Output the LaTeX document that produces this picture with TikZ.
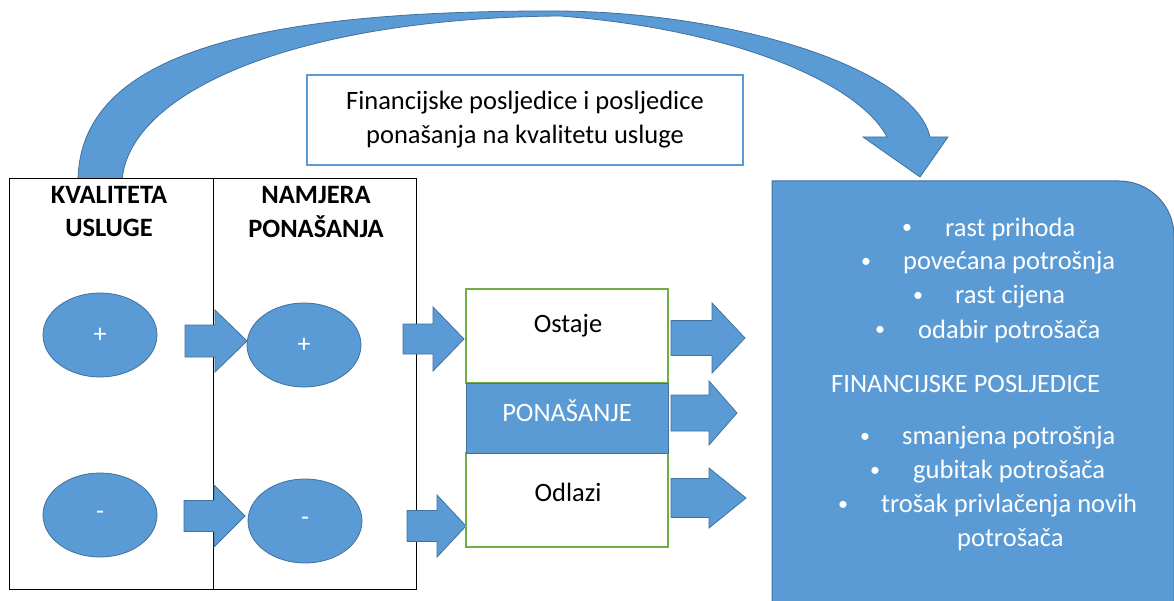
\documentclass[tikz,border=0pt]{standalone}
\usepackage{fontspec}
\setmainfont{Carlito}
\usetikzlibrary{shapes.geometric}
\definecolor{bfill}{HTML}{5B9BD5}
\definecolor{bdraw}{HTML}{41719C}
\definecolor{gdraw}{HTML}{70AD47}
\newcommand{\blkarrow}[6]{\filldraw[blockarrow] (#1,#4-#5) -- (#2,#4-#5) -- (#2,#4-#6) -- (#3,#4) -- (#2,#4+#6) -- (#2,#4+#5) -- (#1,#4+#5) -- cycle;}
\begin{document}
\begin{tikzpicture}[x=1pt,y=-1pt,
  blockarrow/.style={fill=bfill,draw=bdraw,line width=0.8pt},
  oval/.style={ellipse,fill=bfill,draw=bdraw,line width=0.8pt,minimum width=114pt,minimum height=84pt,inner sep=0pt,text=white,font=\fontsize{26}{28}\selectfont},
  hdr/.style={align=center,font=\fontsize{26.5}{33}\selectfont\bfseries},
  gbox/.style={draw=gdraw,line width=1.2pt,minimum width=202pt,inner sep=0pt},
  mtext/.style={inner sep=0pt,font=\fontsize{26.5}{30}\selectfont},
  rtext/.style={anchor=west,text=white,inner sep=0pt,font=\fontsize{26.5}{30}\selectfont},
  bul/.style={text=white,inner sep=0pt,font=\fontsize{20}{24}\selectfont}
]
\useasboundingbox (0,0) rectangle (1174,601);
\fill[white] (0,0) rectangle (1174,601);

% curved arrow
\filldraw[blockarrow]
  (78,180) .. controls (80,55) and (250,10) .. (560,11)
  .. controls (740,13) and (915,70) .. (930,137)
  -- (948,137) -- (920,177) -- (863,137) -- (887,137)
  .. controls (860,85) and (740,30) .. (560,16)
  .. controls (300,18) and (130,90) .. (122,180) -- cycle;

% top text box
\node[draw=bfill,line width=1.4pt,minimum width=436pt,minimum height=90pt,align=center,
  font=\fontsize{26.5}{34}\selectfont] (note) at (525,120)
  {Financijske posljedice i posljedice\\ponašanja na kvalitetu usluge};

% left table
\node[draw=black,line width=1pt,minimum width=204pt,minimum height=410pt,inner sep=0pt,fill=white] (col1) at (111,384) {};
\node[draw=black,line width=1pt,minimum width=203pt,minimum height=410pt,inner sep=0pt] (col2) at (314.5,384) {};
\node[hdr] (h1) at (109,212) {KVALITETA\\USLUGE};
\node[hdr] (h2) at (316,212) {NAMJERA\\PONAŠANJA};

% ellipses
\node[oval] (q1) at (100,335) {+};
\node[oval] (q2) at (100,515) {-};
\node[oval] (n1) at (304,345) {+};
\node[oval] (n2) at (305,521) {-};

% block arrows
\blkarrow{185}{215}{247}{341}{16}{31}
\blkarrow{403}{433}{464}{339}{15}{32}
\blkarrow{184}{214}{245}{516}{15.5}{31}
\blkarrow{407}{437}{466}{526}{15.5}{31}

% middle boxes
\node[gbox,minimum height=94pt] (ost) at (567,336) {};
\node[mtext] (ostt) at (568,326) {Ostaje};
\node[gbox,minimum height=94pt] (odl) at (567,500) {};
\node[mtext] (odlt) at (568,492) {Odlazi};
\node[fill=bfill,draw=bdraw,line width=0.8pt,minimum width=202pt,minimum height=70pt,inner sep=0pt] (pon) at (567,418) {};
\node[mtext,text=white] (pont) at (567,411) {PONAŠANJE};

\blkarrow{671}{712}{745}{338}{17.5}{35}
\blkarrow{671}{709}{737}{413}{18}{32}
\blkarrow{671}{709}{746}{498}{19.5}{30}

% right box
\filldraw[fill=bfill,draw=bdraw,line width=1pt]
  (772,602) -- (772,181) -- (1119,181) arc[start angle=-90,end angle=0,radius=55] -- (1174,602) -- cycle;
\node[bul] (b1) at (907,229) {•};  \node[rtext] (t1) at (945,229) {rast prihoda};
\node[bul] (b2) at (866,263) {•};  \node[rtext] (t2) at (903,263) {povećana potrošnja};
\node[bul] (b3) at (918,297) {•};  \node[rtext] (t3) at (955,297) {rast cijena};
\node[bul] (b4) at (880,331) {•};  \node[rtext] (t4) at (918,331) {odabir potrošača};
\node[rtext] (fin) at (831,384) {FINANCIJSKE POSLJEDICE};
\node[bul] (b5) at (865,438) {•};  \node[rtext] (t5) at (902,438) {smanjena potrošnja};
\node[bul] (b6) at (875,472) {•};  \node[rtext] (t6) at (913,472) {gubitak potrošača};
\node[bul] (b7) at (843,506) {•};  \node[rtext] (t7) at (881,506) {trošak privlačenja novih};
\node[rtext] (t8) at (957,540) {potrošača};
\end{tikzpicture}
\end{document}
